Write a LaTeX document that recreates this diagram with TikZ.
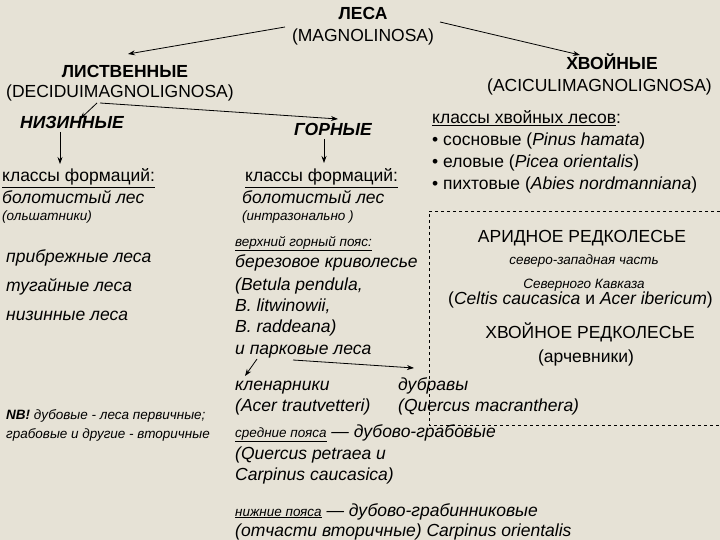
\documentclass[tikz,border=0pt]{standalone}
\usepackage{fontspec}
\setmainfont{Liberation Sans}
\usetikzlibrary{arrows.meta}
\definecolor{bg}{HTML}{E6E2D6}
\tikzset{
 t/.style={anchor=base west,inner sep=0pt,font=\fontsize{17.5}{19}\selectfont},
 ti/.style={t,font=\fontsize{17.5}{19}\selectfont\itshape},
 tc/.style={t,anchor=base},
 tr/.style={t,anchor=base east},
 hd/.style={t,anchor=base,font=\fontsize{17.5}{19}\selectfont\bfseries},
 sm/.style={font=\fontsize{13.5}{15}\selectfont\itshape},
 ar/.style={-{Stealth[length=7pt,width=5pt]},thick},
}
\newcommand{\ul}[1]{\underline{#1}}
\begin{document}
\begin{tikzpicture}[x=1pt,y=-1pt]
\fill[bg] (0,0) rectangle (720,540);
\useasboundingbox (0,0) rectangle (720,540);
\node[hd] (lesa) at (363,20) {ЛЕСА};
\node[tc] (lesa2) at (363,42) {(MAGNOLINOSA)};
\node[hd] (lis) at (125,78) {ЛИСТВЕННЫЕ};
\node[t] (lis2) at (6,98) {(DECIDUIMAGNOLIGNOSA)};
\node[hd] (hv) at (612,70) {ХВОЙНЫЕ};
\node[tr] (hv2) at (712,92) {(ACICULIMAGNOLIGNOSA)};
\node[t,font=\fontsize{17.5}{19}\selectfont\bfseries\itshape] (niz) at (20,129) {НИЗИННЫЕ};
\node[t,font=\fontsize{17.5}{19}\selectfont\bfseries\itshape] (gor) at (294,136) {ГОРНЫЕ};
\coordinate (lesaL) at (285,27); \coordinate (lisT) at (128,54);
\coordinate (lesaR) at (440,22); \coordinate (hvT) at (580,55);
\draw[ar] (lesaL) -- (lisT);
\draw[ar] (lesaR) -- (hvT);
\coordinate (a1) at (97,103); \coordinate (a2) at (80,119);
\coordinate (b1) at (100,103); \coordinate (b2) at (338,119);
\draw[ar] (a1) -- (a2); \draw[ar] (b1) -- (b2);
\coordinate (n1) at (60,132); \coordinate (n2) at (60,164);
\coordinate (g1) at (324,139); \coordinate (g2) at (324,163);
\draw[ar] (n1) -- (n2); \draw[ar] (g1) -- (g2);
% left column
\node[t] (kf1) at (2,182) {\ul{классы формаций:}};
\node[ti] (bl1) at (2,204) {болотистый лес};
\node[t,sm] (ol) at (2,221) {(ольшатники)};
\node[ti] (p1) at (6,262) {прибрежные леса};
\node[ti] (p2) at (6,291) {тугайные леса};
\node[ti] (p3) at (6,320) {низинные леса};
\node[t,sm] (nb1) at (6,419) {\textbf{NB!} дубовые - леса первичные;};
\node[t,sm] (nb2) at (6,438) {грабовые и другие - вторичные};
% middle column
\node[t] (kf2) at (245,182) {\ul{классы формаций:}};
\node[ti] (bl2) at (242,204) {болотистый лес};
\node[t,sm] (intr) at (242,221) {(интразонально )};
\node[t,sm] (vg) at (235,246) {\ul{верхний горный пояс:}};
\node[ti] (m1) at (235,267) {березовое криволесье};
\node[ti] (m2) at (235,290) {(Betula pendula,};
\node[ti] (m3) at (235,311) {B. litwinowii,};
\node[ti] (m4) at (235,332) {B. raddeana)};
\node[ti] (m5) at (235,354) {и парковые леса};
\node[ti] (kl) at (235,390) {кленарники};
\node[ti] (kl2) at (235,411) {(Acer trautvetteri)};
\node[ti] (db) at (398,390) {дубравы};
\node[ti] (db2) at (398,411) {(Quercus macranthera)};
\node[ti] (sp) at (235,437) {{\fontsize{13.5}{15}\selectfont\ul{средние пояса}} — дубово-грабовые};
\node[ti] (sp2) at (235,459) {(Quercus petraea  и};
\node[ti] (sp3) at (235,480) {Carpinus caucasica)};
\node[ti] (np) at (235,516) {{\fontsize{13.5}{15}\selectfont\ul{нижние пояса}} — дубово-грабинниковые};
\node[ti] (np2) at (235,536) {(отчасти вторичные) Carpinus orientalis};
\coordinate (c1) at (257,359); \coordinate (c2) at (245,376);
\coordinate (d1) at (293,360); \coordinate (d2) at (414,368);
\draw[ar] (c1) -- (c2); \draw[ar] (d1) -- (d2);
% right column
\node[t] (kh) at (432,124) {\ul{классы хвойных лесов}:};
\node[t] (s1) at (432,146) {• сосновые (\textit{Pinus hamata})};
\node[t] (s2) at (432,168) {• еловые (\textit{Picea orientalis})};
\node[t] (s3) at (432,190) {• пихтовые (\textit{Abies nordmanniana})};
\coordinate (bx1) at (720,211); \coordinate (bx2) at (429,211);
\coordinate (bx3) at (429,425); \coordinate (bx4) at (720,425);
\draw[dashed,thin] (bx1) -- (bx2) -- (bx3) -- (bx4);
\node[tc] (ar1) at (582,243) {АРИДНОЕ РЕДКОЛЕСЬЕ};
\node[tc,sm] (ar2) at (584,264) {северо-западная часть};
\node[tc,sm] (ar3) at (584,288) {Северного Кавказа};
\node[tr] (ar4) at (713,304) {(\textit{Celtis caucasica} и \textit{Acer ibericum})};
\node[tc] (hr1) at (590,338) {ХВОЙНОЕ РЕДКОЛЕСЬЕ};
\node[tc] (hr2) at (586,362) {(арчевники)};
\end{tikzpicture}
\end{document}
